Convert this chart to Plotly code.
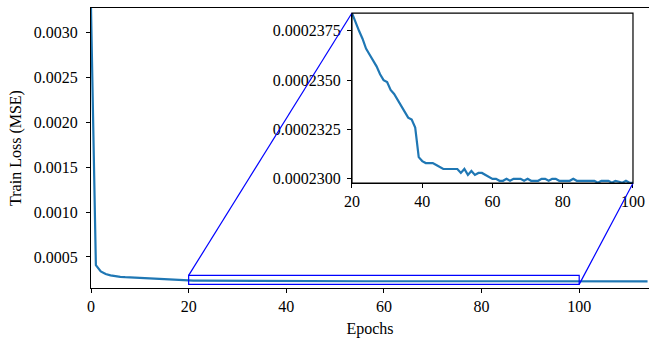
import plotly.graph_objects as go

epochs = list(range(0, 115))
loss_head = [0.00327, 0.00041, 0.00034, 0.00031, 0.000295, 0.000285, 0.000279, 0.000275,
             0.000272, 0.000268, 0.000265, 0.000262, 0.00026, 0.000258, 0.000256, 0.000254,
             0.000252, 0.00025, 0.000248, 0.000242]
loss_zoom = [0.0002384, 0.0002379, 0.0002375, 0.0002371, 0.0002366, 0.0002363, 0.0002360,
             0.0002357, 0.0002353, 0.0002350, 0.0002349, 0.0002345, 0.0002343, 0.0002340,
             0.0002337, 0.0002334, 0.0002331, 0.0002330, 0.0002326, 0.0002311, 0.0002309,
             0.0002308, 0.0002308, 0.0002308, 0.0002307, 0.0002306, 0.0002305, 0.0002305,
             0.0002305, 0.0002305, 0.0002305, 0.0002303, 0.0002305, 0.0002302, 0.0002304,
             0.0002302, 0.0002303, 0.0002303, 0.0002302, 0.0002301, 0.0002300, 0.0002300,
             0.0002299, 0.0002299, 0.0002300, 0.0002299, 0.0002300, 0.0002300, 0.0002300,
             0.0002299, 0.0002300, 0.0002299, 0.0002299, 0.0002299, 0.0002300, 0.0002300,
             0.0002299, 0.0002300, 0.0002300, 0.0002299, 0.0002299, 0.0002299, 0.0002299,
             0.0002300, 0.0002299, 0.0002299, 0.0002299, 0.0002299, 0.0002299, 0.0002299,
             0.0002298, 0.0002299, 0.0002299, 0.0002299, 0.0002298, 0.0002299, 0.00022985,
             0.0002298, 0.0002299, 0.0002298, 0.0002298]
loss_tail = [0.0002298, 0.0002298, 0.0002299, 0.0002298, 0.0002298, 0.0002298, 0.0002298,
             0.0002297, 0.0002298, 0.0002298, 0.0002297, 0.0002297, 0.0002298, 0.0002297]
loss = loss_head + loss_zoom + loss_tail

zoom_x = [20, 100]
zoom_box_y = [0.000195, 0.000295]
main_xrange = [0, 114.3]
main_yrange = [0.000155, 0.00327]
inset_yrange = [0.00022978, 0.0002384]
inset_xdom = [0.4677, 0.9713]
inset_ydom = [0.3743, 0.982]

font = dict(family="Liberation Serif, Times New Roman, serif", size=16, color="black")
blue = "#1f77b4"

fig = go.Figure()
fig.add_trace(go.Scatter(x=epochs, y=loss, mode="lines", line=dict(color=blue, width=2.2),
                         xaxis="x", yaxis="y", showlegend=False, cliponaxis=True))
fig.add_trace(go.Scatter(x=epochs[20:101], y=loss[20:101], mode="lines",
                         line=dict(color=blue, width=2.2), xaxis="x2", yaxis="y2",
                         showlegend=False))

def px(x):
    return (x - main_xrange[0]) / (main_xrange[1] - main_xrange[0])

def py(y):
    return (y - main_yrange[0]) / (main_yrange[1] - main_yrange[0])

shapes = [
    dict(type="rect", xref="x", yref="y", x0=zoom_x[0], x1=zoom_x[1],
         y0=zoom_box_y[0], y1=zoom_box_y[1], line=dict(color="blue", width=1.2)),
    dict(type="line", xref="paper", yref="paper", x0=px(zoom_x[0]), y0=py(zoom_box_y[1]),
         x1=inset_xdom[0], y1=inset_ydom[1], line=dict(color="blue", width=1.2)),
    dict(type="line", xref="paper", yref="paper", x0=px(zoom_x[1]), y0=py(zoom_box_y[0]),
         x1=inset_xdom[1], y1=inset_ydom[0], line=dict(color="blue", width=1.2)),
    dict(type="rect", xref="paper", yref="paper", x0=inset_xdom[0], x1=inset_xdom[1],
         y0=inset_ydom[0], y1=inset_ydom[1], line=dict(color="black", width=1.2),
         fillcolor="rgba(0,0,0,0)", layer="above"),
]

common = dict(ticks="outside", ticklen=4, tickcolor="black", showline=True,
              linecolor="black", linewidth=1.2, showgrid=False, zeroline=False,
              tickfont=font, automargin=False)

fig.update_layout(
    width=649, height=339, autosize=False,
    margin=dict(l=91, r=0, t=8, b=51, autoexpand=False),
    paper_bgcolor="white", plot_bgcolor="white",
    font=font,
    shapes=shapes,
    xaxis=dict(range=main_xrange, tickvals=[0, 20, 40, 60, 80, 100], mirror=True,
               title=dict(text="Epochs", font=font, standoff=8), **common),
    yaxis=dict(range=main_yrange, tickvals=[0.0005, 0.001, 0.0015, 0.002, 0.0025, 0.003],
               tickformat=".4f", ticklabelstandoff=5,
               title=dict(text="Train Loss (MSE)", font=font, standoff=8), **common),
    xaxis2=dict(domain=inset_xdom, anchor="y2", range=[20, 100],
                tickvals=[20, 40, 60, 80, 100], **common),
    yaxis2=dict(domain=inset_ydom, anchor="x2", range=inset_yrange,
                tickvals=[0.00023, 0.0002325, 0.000235, 0.0002375], tickformat=".7f",
                ticklabelstandoff=3, **common),
)

fig.write_html("out.html", config={"displayModeBar": False, "responsive": False},
               default_width="649px", default_height="339px",
               post_script="document.body.style.margin='0';document.body.style.overflow='hidden';")
